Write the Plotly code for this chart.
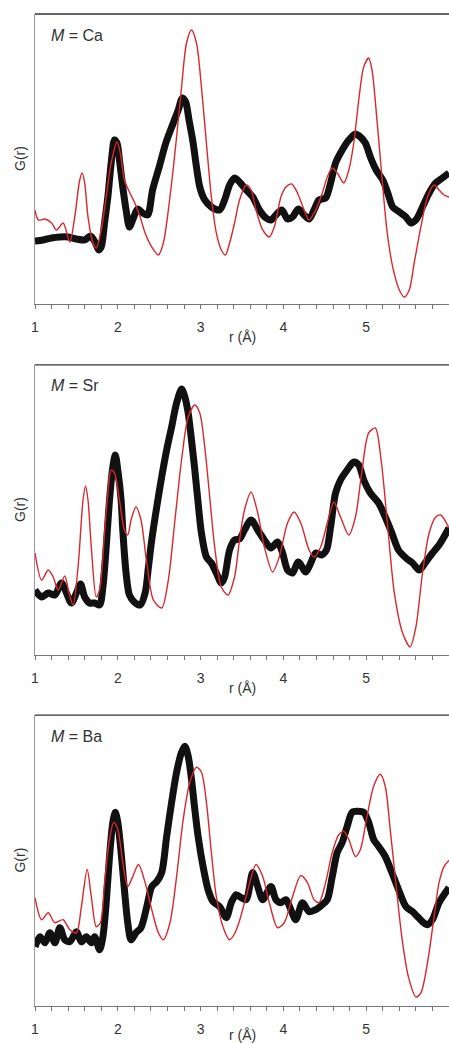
import plotly.graph_objects as go

# r (Å), G(r) in arbitrary units (height above panel baseline)
ca_exp = [(1.0,63),(1.1,64),(1.2,66),(1.3,67),(1.4,67),(1.5,65),(1.6,64),(1.67,68),(1.73,61),(1.77,54),
          (1.8,57),(1.84,81),(1.88,107),(1.92,141),(1.96,164),(1.99,161),(2.02,144),(2.06,117),(2.1,94),(2.14,77),
          (2.18,84),(2.24,95),(2.3,91),(2.36,89),(2.42,114),(2.5,137),(2.58,161),(2.67,181),(2.73,194),(2.78,206),
          (2.82,202),(2.86,184),(2.91,161),(2.95,137),(2.99,117),(3.05,104),(3.13,97),(3.23,94),(3.29,104),(3.35,119),
          (3.41,126),(3.47,122),(3.55,114),(3.63,107),(3.71,94),(3.79,86),(3.85,84),(3.91,89),(3.98,94),(4.05,85),
          (4.11,87),(4.18,95),(4.25,89),(4.31,85),(4.37,94),(4.43,104),(4.51,106),(4.57,121),(4.63,141),(4.71,154),
          (4.79,164),(4.87,170),(4.93,167),(4.99,161),(5.05,147),(5.12,134),(5.2,124),(5.26,111),(5.32,97),(5.4,92),
          (5.48,87),(5.54,81),(5.6,84),(5.68,97),(5.76,111),(5.84,121),(5.92,126),(6.0,131)]
ca_calc = [(1.0,94),(1.04,84),(1.12,85),(1.2,81),(1.26,74),(1.34,81),(1.42,62),(1.48,87),(1.54,124),(1.57,131),
           (1.6,121),(1.64,87),(1.7,61),(1.74,56),(1.8,74),(1.86,107),(1.92,141),(1.99,162),(2.03,151),(2.08,124),
           (2.14,112),(2.2,102),(2.27,87),(2.33,71),(2.41,57),(2.49,49),(2.55,61),(2.63,107),(2.71,167),(2.77,217),
           (2.83,261),(2.89,274),(2.95,261),(3.01,217),(3.07,161),(3.13,107),(3.19,71),(3.25,54),(3.3,49),(3.35,61),
           (3.41,81),(3.47,104),(3.55,119),(3.61,114),(3.67,94),(3.75,74),(3.83,67),(3.89,77),(3.97,107),(4.03,117),
           (4.1,120),(4.17,111),(4.25,94),(4.31,84),(4.39,94),(4.47,111),(4.53,127),(4.59,136),(4.65,131),(4.73,121),
           (4.79,134),(4.85,161),(4.91,204),(4.97,237),(5.03,246),(5.07,234),(5.13,184),(5.19,127),(5.25,74),(5.32,37),
           (5.4,14),(5.46,7),(5.52,14),(5.58,41),(5.66,77),(5.74,107),(5.82,119),(5.88,114),(5.94,109),(6.0,107)]

sr_exp = [(1.0,65),(1.08,58),(1.16,62),(1.24,60),(1.32,72),(1.38,62),(1.44,52),(1.5,62),(1.55,71),(1.6,58),
          (1.66,52),(1.72,52),(1.78,50),(1.82,68),(1.86,108),(1.9,155),(1.94,188),(1.97,200),(2.0,185),(2.04,155),
          (2.06,125),(2.1,82),(2.14,60),(2.2,53),(2.27,50),(2.33,62),(2.37,88),(2.41,115),(2.47,148),(2.53,178),
          (2.59,205),(2.65,228),(2.71,252),(2.77,266),(2.81,258),(2.85,242),(2.89,215),(2.93,185),(2.97,152),(3.01,122),
          (3.07,98),(3.13,92),(3.19,82),(3.25,72),(3.29,78),(3.35,105),(3.41,115),(3.47,116),(3.53,125),(3.61,135),
          (3.69,125),(3.77,115),(3.85,107),(3.93,113),(3.99,102),(4.05,85),(4.11,82),(4.18,93),(4.27,83),(4.33,92),
          (4.39,102),(4.46,100),(4.52,105),(4.57,128),(4.63,162),(4.69,175),(4.77,185),(4.85,193),(4.91,190),(4.97,175),
          (5.05,162),(5.15,152),(5.23,138),(5.31,122),(5.39,105),(5.48,97),(5.56,92),(5.64,85),(5.72,93),(5.8,102),
          (5.88,110),(6.0,127)]
sr_calc = [(1.0,102),(1.08,75),(1.16,85),(1.22,78),(1.28,65),(1.36,79),(1.41,62),(1.46,50),(1.52,88),(1.58,155),
           (1.61,169),(1.64,155),(1.68,108),(1.74,58),(1.78,65),(1.84,122),(1.88,162),(1.92,185),(1.96,182),(2.02,155),
           (2.08,125),(2.12,120),(2.16,135),(2.22,148),(2.28,135),(2.35,92),(2.43,55),(2.53,47),(2.61,75),(2.69,135),
           (2.77,195),(2.85,238),(2.93,250),(2.99,242),(3.05,208),(3.11,158),(3.17,108),(3.25,68),(3.33,60),(3.41,78),
           (3.47,115),(3.53,145),(3.61,163),(3.69,142),(3.77,108),(3.87,83),(3.95,98),(4.05,132),(4.13,143),(4.21,132),
           (4.31,105),(4.37,98),(4.45,108),(4.53,132),(4.61,153),(4.69,138),(4.79,120),(4.87,138),(4.95,185),(5.03,222),
           (5.11,227),(5.18,195),(5.26,128),(5.34,62),(5.44,22),(5.53,8),(5.6,28),(5.68,82),(5.76,122),(5.84,138),
           (5.9,140),(6.0,127)]

ba_exp = [(1.0,59),(1.06,69),(1.12,63),(1.18,73),(1.24,63),(1.3,78),(1.36,66),(1.42,64),(1.5,74),(1.56,64),
          (1.62,69),(1.68,63),(1.72,69),(1.78,56),(1.82,69),(1.86,103),(1.9,149),(1.94,183),(1.97,193),(2.0,183),
          (2.04,153),(2.08,116),(2.12,83),(2.16,66),(2.22,73),(2.28,78),(2.35,99),(2.41,119),(2.47,124),(2.53,133),
          (2.59,169),(2.65,203),(2.71,233),(2.77,253),(2.81,259),(2.85,249),(2.89,226),(2.93,196),(2.97,169),(3.03,139),
          (3.09,116),(3.15,104),(3.23,99),(3.31,88),(3.37,103),(3.43,111),(3.49,108),(3.55,106),(3.63,133),(3.69,119),
          (3.75,106),(3.85,119),(3.91,106),(3.97,103),(4.03,106),(4.09,96),(4.15,86),(4.23,103),(4.31,94),(4.39,96),
          (4.47,101),(4.53,106),(4.59,129),(4.65,153),(4.71,163),(4.77,179),(4.83,193),(4.89,194),(4.97,193),(5.03,183),
          (5.09,166),(5.15,159),(5.23,149),(5.31,133),(5.39,116),(5.48,99),(5.56,94),(5.62,89),(5.68,84),(5.74,81),
          (5.8,86),(5.88,103),(6.0,118)]
ba_calc = [(1.0,108),(1.08,86),(1.16,93),(1.24,83),(1.34,86),(1.42,76),(1.5,73),(1.56,99),(1.63,136),(1.68,109),
           (1.74,79),(1.79,83),(1.84,123),(1.9,166),(1.95,183),(2.0,176),(2.06,143),(2.12,119),(2.18,129),(2.25,141),
           (2.33,123),(2.41,96),(2.49,73),(2.55,66),(2.63,83),(2.71,129),(2.79,186),(2.87,223),(2.95,238),(3.01,233),
           (3.07,203),(3.13,153),(3.19,109),(3.27,79),(3.35,66),(3.41,72),(3.47,85),(3.55,109),(3.67,141),(3.75,129),
           (3.83,103),(3.93,78),(4.01,83),(4.11,109),(4.21,130),(4.29,123),(4.37,106),(4.43,103),(4.51,123),(4.59,153),
           (4.67,171),(4.73,174),(4.79,166),(4.87,149),(4.93,156),(5.01,189),(5.09,219),(5.17,231),(5.23,219),(5.29,176),
           (5.35,129),(5.43,69),(5.51,29),(5.6,9),(5.66,13),(5.74,43),(5.82,89),(5.88,123),(5.94,139),(6.0,145)]

panel_labels = ["Ca", "Sr", "Ba"]
x_tick_vals = [1, 2, 3, 4, 5, 6]
x_title = "r (Å)"
y_title = "G(r)"

panels = [(ca_exp, ca_calc), (sr_exp, sr_calc), (ba_exp, ba_calc)]
# plot area spans 992 px (page y 14 .. 1006)
domains = [[0.7077, 1.0], [0.3538, 0.6462], [0.0, 0.2933]]
title_shift = [-33, -33, -29]

FONT = "Liberation Sans, Arial, sans-serif"
fig = go.Figure()
annotations = []
shapes = []
for i, ((exp, calc), dom, lab) in enumerate(zip(panels, domains, panel_labels)):
    sfx = "" if i == 0 else str(i + 1)
    xa, ya = "x" + sfx, "y" + sfx
    ex, ey = zip(*exp)
    cx, cy = zip(*calc)
    fig.add_trace(go.Scatter(x=ex, y=ey, mode="lines", xaxis=xa, yaxis=ya,
                             line=dict(color="#111111", width=7, shape="spline", smoothing=0.8),
                             showlegend=False, hoverinfo="skip"))
    fig.add_trace(go.Scatter(x=cx, y=cy, mode="lines", xaxis=xa, yaxis=ya,
                             line=dict(color="#d8282e", width=1.4, shape="spline", smoothing=0.8),
                             showlegend=False, hoverinfo="skip"))
    fig.update_layout(**{
        "xaxis" + sfx: dict(domain=[0, 1], range=[1, 6], anchor=ya, tickmode="array",
                            tickvals=x_tick_vals, ticks="outside", ticklen=4, tickcolor="#777",
                            tickwidth=1, showline=True, linecolor="#777", linewidth=1.2,
                            showgrid=False, zeroline=False, ticklabelstandoff=6,
                            tickfont=dict(family=FONT, size=14, color="#333"),
                            minor=dict(dtick=0.2, tick0=1, ticks="outside", ticklen=4,
                                       tickcolor="#777", showgrid=False)),
        "yaxis" + sfx: dict(domain=dom, range=[0, 290], anchor=xa, showticklabels=False,
                            ticks="", showline=True, linecolor="#999", linewidth=1.2,
                            showgrid=False, zeroline=False),
    })
    shapes.append(dict(type="line", xref=xa + " domain", yref=ya + " domain",
                       x0=0, x1=1, y0=1, y1=1, line=dict(color="#333", width=1.3)))
    annotations.append(dict(text="<i>M</i> = " + lab, xref=xa + " domain", yref=ya + " domain",
                            x=0, y=1, xanchor="left", yanchor="middle", xshift=14, yshift=-21,
                            showarrow=False, font=dict(family=FONT, size=16, color="#333")))
    annotations.append(dict(text=x_title, xref=xa + " domain", yref=ya + " domain",
                            x=0.5, y=0, xanchor="center", yanchor="middle", yshift=title_shift[i],
                            showarrow=False, font=dict(family=FONT, size=14, color="#333")))
    annotations.append(dict(text=y_title, xref=xa + " domain", yref=ya + " domain",
                            x=0, y=0.5, xanchor="center", yanchor="middle", xshift=-15,
                            textangle=-90, showarrow=False,
                            font=dict(family=FONT, size=14, color="#333")))

fig.update_layout(width=449, height=1043, margin=dict(l=35, r=0, t=14, b=37, autoexpand=False),
                  paper_bgcolor="white", plot_bgcolor="white",
                  annotations=annotations, shapes=shapes, showlegend=False)
# remove the default page margin so the figure fills the window exactly
fig.write_html("out.html", config={"displayModeBar": False, "staticPlot": True},
               post_script="document.body.style.margin='0';"
                           "document.documentElement.style.overflow='hidden';")
